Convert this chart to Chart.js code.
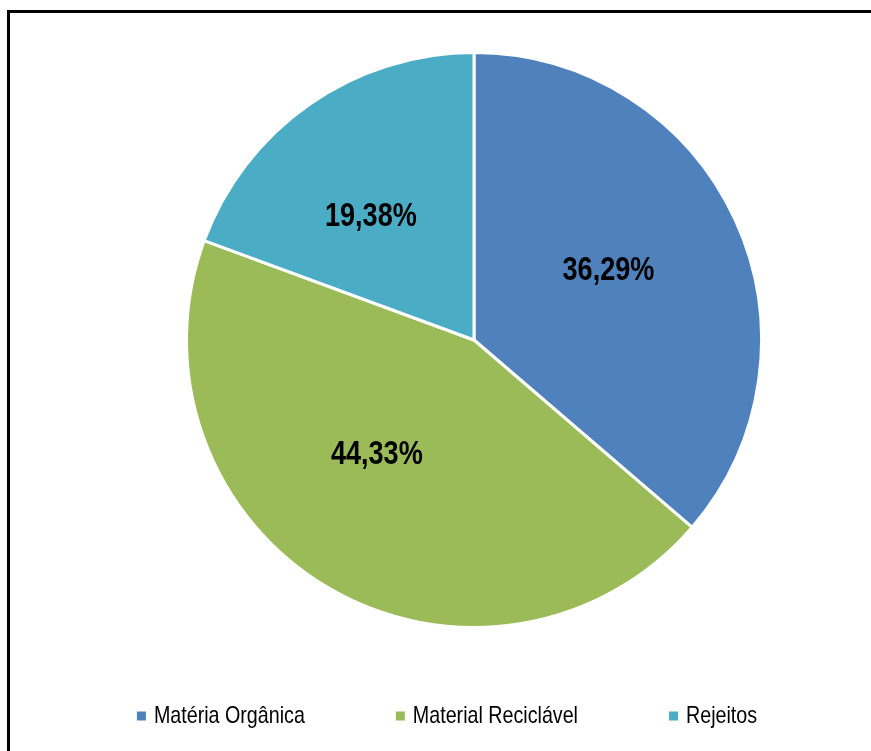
<!DOCTYPE html>
<html>
<head>
<meta charset="utf-8">
<title>Composição dos resíduos</title>
<script src="https://cdn.jsdelivr.net/npm/chart.js@4.4.1/dist/chart.umd.min.js"></script>
<style>
  html, body { margin: 0; padding: 0; background: #fff; overflow: hidden; }
  #wrap { position: relative; width: 871px; height: 751px; }
  #frame { position: absolute; left: 7px; top: 10px; width: 900px; height: 800px; border: 3px solid #000; box-sizing: border-box; }
  #chart { position: absolute; left: 0; top: 0; }
</style>
</head>
<body>
<div id="wrap">
  <div id="frame"></div>
  <canvas id="chart" width="871" height="751"></canvas>
</div>
<script>
var categories = ['Matéria Orgânica', 'Material Reciclável', 'Rejeitos'];
var percentages = [36.29, 44.33, 19.38];
var sliceColors = ['#4F81BD', '#9BBB59', '#4BACC6'];

// no narrow face installed, so Liberation Sans is squeezed horizontally
var baseFont = '"Liberation Sans", Arial, sans-serif';
var squeeze = 0.82;

function formatPct(v) {
    return v.toFixed(2).replace('.', ',') + '%';
}

function narrowText(ctx, text, x, y) {
    ctx.save();
    ctx.translate(x, y);
    ctx.scale(squeeze, 1);
    ctx.fillText(text, 0, 0);
    ctx.restore();
}

// value labels inside each slice
var sliceLabels = {
    id: 'sliceLabels',
    afterDatasetsDraw: function(chart, args, opts) {
        var ctx = chart.ctx;
        var meta = chart.getDatasetMeta(0);
        ctx.save();
        ctx.font = opts.font;
        ctx.fillStyle = '#000';
        ctx.textAlign = 'center';
        ctx.textBaseline = 'middle';
        meta.data.forEach(function(arc, i) {
            var p = arc.getProps(['x', 'y', 'startAngle', 'endAngle', 'outerRadius'], true);
            var mid = (p.startAngle + p.endAngle) / 2;
            var r = p.outerRadius * opts.radiusFactor;
            var n = opts.nudge[i] || [0, 0];
            narrowText(ctx, formatPct(chart.data.datasets[0].data[i]),
                p.x + Math.cos(mid) * r + n[0],
                p.y + Math.sin(mid) * r + n[1]);
        });
        ctx.restore();
    }
};

// single row legend with small square markers
var rowLegend = {
    id: 'rowLegend',
    afterDraw: function(chart, args, opts) {
        var ctx = chart.ctx;
        var items = chart.options.plugins.legend.labels.generateLabels(chart);
        ctx.save();
        ctx.font = opts.font;
        ctx.textBaseline = 'middle';
        ctx.textAlign = 'left';
        var widths = items.map(function(it) { return ctx.measureText(it.text).width * squeeze; });
        var total = 0;
        widths.forEach(function(w) { total += opts.box + opts.boxGap + w; });
        total += opts.itemGap * (items.length - 1);
        var x = opts.centerX - total / 2;
        items.forEach(function(it, i) {
            ctx.fillStyle = it.fillStyle;
            ctx.fillRect(x, opts.y - opts.box / 2, opts.box, opts.box);
            x += opts.box + opts.boxGap;
            ctx.fillStyle = '#000';
            narrowText(ctx, it.text, x, opts.y);
            x += widths[i] + opts.itemGap;
        });
        ctx.restore();
    }
};

const ctx = document.getElementById('chart');
window.myChart = new Chart(ctx, {
    type: 'pie',
    data: {
        labels: categories,
        datasets: [{
            data: percentages,
            backgroundColor: sliceColors,
            borderColor: '#fff',
            borderWidth: 3,
            radius: 287.5
        }]
    },
    options: {
        responsive: false,
        animation: false,
        layout: {
            padding: { top: 51, left: 77, right: 0, bottom: 122 }
        },
        plugins: {
            legend: { display: false },
            tooltip: { enabled: false },
            sliceLabels: {
                font: 'bold 33px ' + baseFont,
                radiusFactor: 0.53,
                nudge: [[-4, -5], [-20, -16], [-16, 2]]
            },
            rowLegend: {
                font: '24px ' + baseFont,
                y: 716,
                centerX: 447,
                box: 9,
                boxGap: 8,
                itemGap: 91
            }
        }
    },
    plugins: [sliceLabels, rowLegend]
});
</script>
</body>
</html>
